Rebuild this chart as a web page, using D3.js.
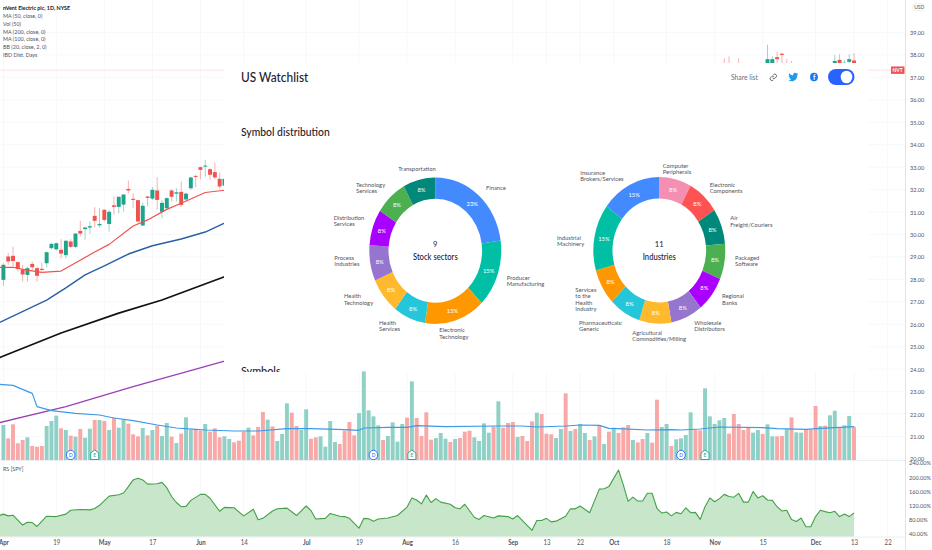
<!DOCTYPE html>
<html>
<head>
<meta charset="utf-8">
<title>US Watchlist</title>
<script src="https://cdn.jsdelivr.net/npm/d3@7"></script>
<style>
    html, body { margin: 0; padding: 0; background: #fff; overflow: hidden; }
    svg { display: block; }
    text { font-family: Lato, sans-serif; }
</style>
</head>
<body>
<div id="chart"></div>
<script>
// Volume per trading day
const volumes = [
    105, 65, 107, 50, 60, 68, 42, 40, 42, 102, 117, 133, 95, 90, 73, 70, 93, 67, 94, 120, 120, 117, 90, 127, 97, 122, 109, 77, 71, 96, 74, 90,
    103, 72, 111, 70, 51, 79, 128, 91, 90, 88, 108, 85, 95, 68, 71, 63, 53, 58, 85, 97, 74, 99, 144, 121, 101, 57, 78, 170, 142, 102, 90, 152,
    64, 68, 71, 40, 117, 54, 48, 88, 114, 74, 141, 266, 149, 131, 104, 60, 72, 113, 55, 108, 127, 236, 126, 72, 143, 61, 66, 81, 64, 54, 63, 66,
    85, 88, 68, 57, 110, 82, 100, 176, 97, 111, 114, 69, 72, 57, 116, 142, 138, 79, 77, 66, 93, 200, 87, 93, 108, 81, 60, 71, 105, 48, 85, 97, 81,
    98, 105, 60, 53, 63, 81, 52, 181, 99, 108, 42, 62, 65, 75, 143, 90, 89, 215, 131, 108, 119, 126, 79, 138, 108, 90, 96, 82, 90, 78, 107, 71,
    71, 72, 92, 128, 83, 82, 92, 91, 162, 102, 103, 134, 148, 96, 104, 132, 100
];
// 1 = up day, 0 = down day
const volumeUp = [
    1, 0, 0, 0, 0, 1, 0, 0, 0, 1, 1, 1, 0, 1, 0, 1, 0, 1, 1, 0, 1, 0, 1, 0, 1, 1, 0, 0, 0, 1, 0, 1,
    0, 1, 1, 0, 1, 0, 1, 1, 0, 0, 1, 0, 0, 0, 1, 1, 0, 0, 0, 1, 0, 0, 0, 1, 0, 1, 1, 1, 0, 0, 1, 1,
    0, 0, 1, 1, 1, 1, 0, 0, 0, 0, 1, 1, 1, 1, 1, 0, 1, 1, 1, 1, 0, 1, 0, 0, 0, 0, 1, 1, 1, 0, 1, 0,
    0, 0, 1, 1, 1, 1, 0, 1, 0, 0, 0, 1, 0, 0, 0, 1, 0, 0, 0, 1, 1, 0, 1, 0, 1, 1, 0, 1, 0, 1, 0, 1, 0,
    0, 0, 1, 0, 0, 1, 0, 0, 1, 1, 0, 1, 1, 1, 1, 0, 0, 1, 1, 1, 1, 1, 0, 0, 0, 0, 0, 1, 1, 0, 1, 1,
    0, 0, 1, 0, 1, 1, 0, 0, 0, 1, 0, 1, 1, 0, 1, 1, 0
];
const volumeMaDays = [-1, 2, 6, 7, 10, 15, 20, 23, 27, 32, 36, 40, 42, 48, 53, 59, 64, 71, 74, 75, 80, 84, 86, 92, 103, 108, 111, 117, 120, 124, 126, 128, 134, 139, 141, 145, 149, 158, 161, 167, 170, 177];
const volumeMaValues = [227, 224, 200, 160, 148, 140, 135, 126, 118, 105, 96, 92, 90, 87, 87, 94, 94, 91, 89, 96, 98, 98, 103, 100, 102, 102, 99, 102, 105, 104, 95, 94, 90, 91, 90, 93, 99, 97, 94, 92, 95, 100];

// Candles visible left of the watchlist card
const candleOpen = [27.98, 29.02, 29.05, 28.77, 28.42, 28.20, 28.69, 28.50, 28.47, 28.72, 29.39, 29.34, 29.32, 29.08, 29.69, 29.45, 30.16, 30.24, 30.31, 30.83, 30.41, 31.10, 30.47, 31.30, 31.23, 31.33, 32.03, 31.59, 31.53, 30.40, 31.69, 31.60, 31.96, 31.01, 31.17, 31.96, 31.82, 31.90, 31.56, 32.06, 32.61, 33.00, 33.03, 32.91, 32.78, 32.48, 32.18];
const candleHigh = [28.72, 29.17, 29.46, 28.80, 28.65, 28.57, 28.80, 28.57, 28.75, 29.24, 29.64, 29.64, 29.79, 29.76, 29.79, 30.06, 30.61, 30.35, 30.58, 31.22, 31.17, 31.13, 31.10, 31.69, 31.69, 31.79, 32.40, 31.84, 31.54, 31.42, 31.72, 32.11, 32.55, 31.54, 31.65, 32.02, 32.06, 32.36, 31.87, 32.58, 32.66, 33.03, 33.32, 32.95, 33.21, 32.76, 32.48];
const candleLow = [27.71, 28.65, 28.57, 28.35, 27.90, 27.90, 28.42, 27.90, 28.35, 28.54, 29.34, 29.28, 28.94, 28.94, 29.39, 29.39, 29.91, 29.76, 30.03, 30.32, 30.32, 30.58, 30.13, 30.87, 30.95, 31.02, 31.84, 31.17, 30.53, 30.38, 31.25, 31.54, 31.10, 30.73, 31.10, 31.47, 31.47, 31.22, 31.47, 31.99, 32.11, 32.46, 32.58, 32.43, 32.46, 32.02, 32.14];
const candleClose = [28.65, 28.80, 28.82, 28.47, 28.22, 28.50, 28.54, 28.16, 28.42, 29.21, 29.58, 29.61, 29.15, 29.72, 29.45, 30.04, 30.04, 30.31, 30.37, 30.61, 30.47, 30.65, 31.01, 31.23, 31.68, 31.78, 31.96, 31.54, 30.58, 31.28, 31.63, 31.99, 31.54, 31.41, 31.62, 31.68, 31.88, 31.32, 31.82, 32.54, 32.57, 32.88, 33.07, 32.66, 32.54, 32.14, 32.48];

// Candles sticking out above the card on the right
const topCandleDays = [150, 151, 153, 159, 160, 161, 162, 163, 164, 173, 174, 175, 176, 177];
const topCandleOpen = [37.60, 37.60, 37.60, 37.50, 37.50, 37.90, 38.05, 37.60, 37.60, 37.50, 37.78, 37.50, 37.69, 37.75];
const topCandleHigh = [37.85, 37.93, 37.85, 38.45, 37.93, 38.15, 38.10, 37.81, 37.73, 38.00, 38.03, 37.78, 38.03, 38.08];
const topCandleLow = [37.50, 37.50, 37.50, 37.50, 37.50, 37.50, 37.50, 37.50, 37.50, 37.50, 37.50, 37.50, 37.50, 37.50];
const topCandleClose = [37.58, 37.58, 37.58, 37.81, 37.81, 37.81, 38.00, 37.58, 37.58, 37.73, 37.50, 37.65, 37.81, 37.50];

const ma50Days = [-1, 2, 4, 8, 12, 19, 22, 27, 30, 34, 37, 42, 46];
const ma50Values = [28.54, 28.54, 28.45, 28.31, 28.37, 29.22, 29.56, 30.38, 30.65, 31.12, 31.39, 31.87, 31.97];
const ma100Days = [-1, 9, 13, 17, 21, 26, 31, 37, 42, 46];
const ma100Values = [26.06, 27.08, 27.62, 28.20, 28.60, 29.13, 29.50, 29.80, 30.11, 30.51];
const ma200Days = [-1, 12, 24, 33, 46];
const ma200Values = [24.50, 25.61, 26.50, 27.08, 28.12];
const bbDays = [-1, 13, 27, 46];
const bbValues = [21.61, 22.33, 23.22, 24.36];
const lastPrice = 37.32;

const rsDays = [-1, 0, 1, 2, 4, 5, 6, 7, 9, 11, 13, 14, 16, 18, 19, 20, 22, 24, 25, 26, 27, 28, 29, 30, 32, 33, 34, 35, 36, 37, 38, 39, 41, 42, 43, 45, 46, 48, 50, 52, 53, 54, 56, 57, 59, 61, 63,
    64, 65, 67, 68, 70, 71, 72, 74, 75, 76, 77, 78, 80, 82, 84, 85, 86, 87, 88, 89, 90, 91, 93, 94, 95, 96, 98, 99, 100, 102, 103, 105, 106, 107, 110, 111, 112, 113, 114, 115, 117, 118, 119, 120, 122, 124, 125, 126, 128,
    129, 130, 131, 132, 133, 134, 135, 136, 137, 138, 139, 140, 141, 142, 143, 144, 145, 146, 147, 148, 149, 150, 151, 152, 153, 154, 155, 156, 157, 158, 159, 160, 161, 162, 163, 164, 165, 166, 167, 168, 169, 170, 171, 172, 173, 174, 175, 176, 177];
const rsValues = [90, 95, 90, 92, 64, 72, 71, 60, 89, 88, 95, 106, 108, 107, 111, 120, 146, 150, 155, 173, 192, 197, 192, 180, 181, 185, 170, 145, 128, 116, 117, 134, 151, 151, 140, 103, 114, 113, 90, 109, 79, 83, 104, 110, 112, 91, 118,
    105, 81, 83, 97, 89, 88, 83, 55, 83, 82, 75, 81, 84, 91, 115, 141, 135, 124, 149, 128, 139, 129, 123, 113, 110, 123, 86, 80, 91, 84, 90, 88, 81, 91, 49, 77, 77, 83, 73, 75, 89, 110, 110, 118, 99, 166, 167, 173, 220,
    178, 131, 143, 132, 132, 154, 154, 111, 98, 101, 90, 100, 96, 113, 99, 100, 80, 116, 141, 130, 139, 151, 145, 143, 154, 129, 129, 159, 141, 147, 135, 134, 116, 104, 106, 80, 74, 84, 59, 59, 88, 106, 102, 99, 103, 88, 95, 88, 98];

const dividendDays = [14, 77, 141];
const earningsDays = [19, 85, 146];

const dateTickDays = [0, 11, 21, 31, 41, 50, 63, 74, 84, 94, 106, 113, 120, 127, 138, 148, 158, 169, 177, 184];
const dateTickLabels = ['Apr', '19', 'May', '17', 'Jun', '14', 'Jul', '19', 'Aug', '16', 'Sep', '13', '22', 'Oct', '18', 'Nov', '15', 'Dec', '13', '22'];
const priceTicks = [39, 38, 37, 36, 35, 34, 33, 32, 31, 30, 29, 28, 27, 26, 25, 24, 23, 22, 21, 20];
const rsTicks = [240, 200, 160, 120, 80, 40];

const legendLines = ['nVent Electric plc, 1D, NYSE', 'MA (50, close, 0)', 'Vol (50)', 'MA (200, close, 0)', 'MA (100, close, 0)', 'BB (20, close, 2, 0)', 'IBD Dist. Days'];

const sectorNames = ['Finance', 'Producer\nManufacturing', 'Electronic\nTechnology', 'Health\nServices', 'Health\nTechnology', 'Process\nIndustries', 'Distribution\nServices', 'Technology\nServices', 'Transportation'];
const sectorShares = [23, 15, 15, 8, 8, 8, 8, 8, 8];
const industryNames = ['Computer\nPeripherals', 'Electronic\nComponents', 'Air\nFreight/Couriers', 'Packaged\nSoftware', 'Regional\nBanks', 'Wholesale\nDistributors', 'Agricultural\nCommodities/Milling', 'Pharmaceuticals:\nGeneric', 'Services\nto the\nHealth\nIndustry', 'Industrial\nMachinery', 'Insurance\nBrokers/Services'];
const industryShares = [8, 8, 8, 8, 8, 8, 8, 8, 8, 15, 15];

// Colours per donut
const sectorColors = ['#448aff', '#00bfa5', '#ff9800', '#26c6da', '#ffb92d', '#9575cd', '#aa00ff', '#4caf50', '#00897b'];
const industryColors = ['#f48fb1', '#ff5252', '#00897b', '#4caf50', '#aa00ff', '#9575cd', '#ffb92d', '#26c6da', '#ff9800', '#00bfa5', '#448aff'];

// Where each donut's outer labels start (x, y of the first line)
const sectorLabelAt = [[486, 187.3], [506.7, 277.7], [439.3, 330], [379, 322.7], [344, 296], [334.3, 257.7], [333.7, 217.7], [356, 184.3], [398.3, 169]];
const industryLabelAt = [[662.7, 165.7], [709.7, 184.3], [730.3, 218], [735, 257.7], [722, 296], [694.3, 322.7], [632.3, 332.7], [579, 322.7], [575.3, 289.7], [557, 237.7], [580.3, 172.7]];

const width = 932;
const height = 550;
const squeeze = 0.9; // the whole screenshot is narrower than tall

const svg = d3.select('#chart').append('svg')
    .attr('width', width)
    .attr('height', height);

const x = d3.scaleLinear().domain([0, 177]).range([3.4, 854]);
const priceY = d3.scaleLinear().domain([20, 40]).range([459, 10]);
const volumeY = d3.scaleLinear().domain([0, 300]).range([460, 360]);
const rsY = d3.scaleLinear().domain([40, 240]).range([533.5, 463]);
const bandWidth = (x(1) - x(0)) * 0.82;

const GREEN = '#1fa38a';
const RED = '#ef5350';

function addText(parent, px, py, str, size, fill, weight) {
    const t = parent.append('text')
        .attr('transform', `translate(${px},${py}) scale(${squeeze},1)`)
        .attr('font-size', size)
        .attr('fill', fill)
        .attr('font-weight', weight || 400);
    str.split('\n').forEach((line, i) => {
        t.append('tspan').attr('x', 0).attr('dy', i ? 6.5 : '0.35em').text(line);
    });
    return t;
}

function squeezeTicks(sel) {
    sel.selectAll('text').each(function() {
        const t = d3.select(this);
        t.attr('x', (+t.attr('x') || 0) / squeeze).attr('transform', `scale(${squeeze},1)`);
    });
}

// Faint grid
const grid = svg.append('g').attr('stroke', '#f7f8fc');
grid.selectAll('line.h').data(priceTicks).enter().append('line')
    .attr('x1', 0).attr('x2', 905).attr('y1', d => priceY(d)).attr('y2', d => priceY(d));
grid.selectAll('line.v').data(dateTickDays).enter().append('line')
    .attr('x1', d => x(d)).attr('x2', d => x(d)).attr('y1', 0).attr('y2', 537);

// Price pane
function drawCandles(days, open, high, low, close) {
    const g = svg.append('g');
    days.forEach((day, i) => {
        const c = close[i] >= open[i] ? GREEN : RED;
        g.append('line')
            .attr('x1', x(day)).attr('x2', x(day))
            .attr('y1', priceY(high[i])).attr('y2', priceY(low[i]))
            .attr('stroke', c).attr('stroke-opacity', 0.45);
        g.append('rect')
            .attr('x', x(day) - bandWidth / 2)
            .attr('y', priceY(Math.max(open[i], close[i])))
            .attr('width', bandWidth)
            .attr('height', Math.max(1, Math.abs(priceY(open[i]) - priceY(close[i]))))
            .attr('fill', c);
    });
}
drawCandles(candleOpen.map((d, i) => i), candleOpen, candleHigh, candleLow, candleClose);
drawCandles(topCandleDays, topCandleOpen, topCandleHigh, topCandleLow, topCandleClose);

function drawLine(parent, days, values, yScale, color, w) {
    const line = d3.line().x(d => x(d[0])).y(d => yScale(d[1]));
    parent.append('path')
        .attr('d', line(days.map((d, i) => [d, values[i]])))
        .attr('fill', 'none')
        .attr('stroke', color)
        .attr('stroke-width', w)
        .attr('stroke-linejoin', 'round');
}
drawLine(svg, bbDays, bbValues, priceY, '#9c3fb5', 1.3);
drawLine(svg, ma200Days, ma200Values, priceY, '#111', 1.7);
drawLine(svg, ma100Days, ma100Values, priceY, '#2b5ea8', 1.4);
drawLine(svg, ma50Days, ma50Values, priceY, '#ef5350', 1.2);

// Last price line and its tag
svg.append('line').attr('x1', 0).attr('x2', 891)
    .attr('y1', priceY(lastPrice)).attr('y2', priceY(lastPrice))
    .attr('stroke', '#f7dde0').attr('stroke-width', 0.8);

// Watchlist card sits on top of the price pane
svg.append('rect').attr('x', 224).attr('y', 63).attr('width', 644).attr('height', 309).attr('fill', '#fff');
const card = svg.append('g');
addText(card, 241, 77, 'US Watchlist', 13.2, '#1e222d', 500);
addText(card, 241, 131.5, 'Symbol distribution', 11.5, '#1e222d', 500);
addText(card, 731, 77, 'Share list', 7.5, '#6a6d78');

function drawDonut(cx, cy, names, shares, colors, labelAt, count, title) {
    const g = svg.append('g').attr('transform', `translate(${cx},${cy}) scale(${squeeze},1)`);
    const pie = d3.pie().sort(null).value(d => d);
    const arc = d3.arc().innerRadius(52).outerRadius(73.3);
    const slices = pie(shares);
    g.selectAll('path').data(slices).enter().append('path')
        .attr('d', arc)
        .attr('fill', (d, i) => colors[i]);
    g.selectAll('text').data(slices).enter().append('text')
        .attr('x', d => arc.centroid(d)[0])
        .attr('y', d => arc.centroid(d)[1])
        .attr('text-anchor', 'middle')
        .attr('dy', '0.35em')
        .attr('font-size', 6.5)
        .attr('fill', '#fff')
        .text(d => d.data + '%');
    g.append('text').attr('y', -6.7).attr('text-anchor', 'middle').attr('dy', '0.35em')
        .attr('font-size', 8.5).attr('fill', '#1e222d').text(count);
    g.append('text').attr('y', 6.7).attr('text-anchor', 'middle').attr('dy', '0.35em')
        .attr('font-size', 8.5).attr('font-weight', 500).attr('fill', '#1e222d').text(title);
    names.forEach((name, i) => {
        addText(svg, labelAt[i][0], labelAt[i][1], name, 6.5, '#50535e');
    });
}
drawDonut(435.3, 250.7, sectorNames, sectorShares, sectorColors, sectorLabelAt, '9', 'Stock sectors');
drawDonut(659.3, 250.4, industryNames, industryShares, industryColors, industryLabelAt, '11', 'Industries');

// "Symbols" heading is cut off by the volume pane
const clip = svg.append('clipPath').attr('id', 'card-clip');
clip.append('rect').attr('x', 224).attr('y', 63).attr('width', 644).attr('height', 309);
const symbols = svg.append('g').attr('clip-path', 'url(#card-clip)');
addText(symbols, 241, 370.5, 'Symbols', 12, '#1e222d', 500);

// Share icons
const icons = svg.append('g');
icons.append('g').attr('transform', 'translate(769,73) scale(0.36)')
    .append('path')
    .attr('d', 'M10 14a5 5 0 0 0 7 0l3-3a5 5 0 0 0-7-7l-1 1M14 10a5 5 0 0 0-7 0l-3 3a5 5 0 0 0 7 7l1-1')
    .attr('fill', 'none').attr('stroke', '#50535e').attr('stroke-width', 2.4);
icons.append('g').attr('transform', 'translate(788,71.5) scale(0.44,0.46)')
    .append('path')
    .attr('d', 'M23 5c-.8.4-1.7.6-2.6.7.9-.6 1.6-1.4 2-2.5-.9.5-1.8.9-2.9 1.1A4.6 4.6 0 0 0 11.700 8.500 13 13 0 0 1 2.300 3.700a4.600 4.600 0 0 0 1.400 6.100c-.7 0-1.400-.2-2-.6 0 2.200 1.600 4.100 3.700 4.600-.7.2-1.400.2-2.100.1.600 1.800 2.300 3.200 4.300 3.200A9.200 9.200 0 0 1 1 19a13 13 0 0 0 20-11.500c.9-.6 1.600-1.400 2-2.500z')
    .attr('fill', '#1d9bf0');
icons.append('ellipse').attr('cx', 814).attr('cy', 77).attr('rx', 3.9).attr('ry', 4.3).attr('fill', '#1877f2');
addText(icons, 813, 77.6, 'f', 7.5, '#fff', 700);
icons.append('rect').attr('x', 828).attr('y', 69).attr('width', 26.5).attr('height', 16).attr('rx', 8).attr('fill', '#2962ff');
icons.append('ellipse').attr('cx', 846.5).attr('cy', 77).attr('rx', 5.8).attr('ry', 6.3).attr('fill', '#fff');

// Volume pane
svg.append('g').selectAll('rect').data(volumes).enter().append('rect')
    .attr('x', (d, i) => x(i) - bandWidth / 2)
    .attr('y', d => volumeY(d))
    .attr('width', bandWidth)
    .attr('height', d => volumeY(0) - volumeY(d))
    .attr('fill', (d, i) => volumeUp[i] ? '#8fd1c6' : '#f8a9a7');
drawLine(svg, volumeMaDays, volumeMaValues, volumeY, '#3d9ae8', 1.2);

const eventY = 455;
svg.append('g').selectAll('ellipse').data(dividendDays).enter().append('ellipse')
    .attr('cx', d => x(d)).attr('cy', eventY).attr('rx', 4.3).attr('ry', 4.7)
    .attr('fill', '#fff').attr('stroke', '#2962ff').attr('stroke-width', 0.9);
dividendDays.forEach(d => addText(svg, x(d) - 1.8, eventY, 'D', 5.5, '#2962ff'));
const housePath = d3.path();
[[-4, -2], [0, -5], [4, -2], [4, 4.5], [-4, 4.5]].forEach((p, i) => i ? housePath.lineTo(p[0], p[1]) : housePath.moveTo(p[0], p[1]));
housePath.closePath();
svg.append('g').selectAll('path').data(earningsDays).enter().append('path')
    .attr('transform', d => `translate(${x(d)},${eventY})`)
    .attr('d', housePath.toString())
    .attr('fill', '#fff').attr('stroke', '#1fa38a').attr('stroke-width', 0.9);
earningsDays.forEach(d => addText(svg, x(d) - 1.5, eventY, 'E', 5.5, '#1fa38a'));

svg.append('line').attr('x1', 0).attr('x2', 905).attr('y1', 460.5).attr('y2', 460.5).attr('stroke', '#eceef3');

// Relative strength pane
addText(svg, 3, 468.7, 'RS [SPY]', 6, '#50535e');
const rsPoints = rsDays.map((d, i) => [d, rsValues[i]]);
const rsBottom = 536.8;
svg.append('path')
    .attr('d', d3.area().x(d => x(d[0])).y0(rsBottom).y1(d => rsY(d[1]))(rsPoints))
    .attr('fill', '#c8e6c9');
drawLine(svg, rsDays, rsValues, rsY, '#43a047', 1.1);

// Axes
const dateAxis = svg.append('g')
    .attr('transform', 'translate(0,537)')
    .call(d3.axisBottom(x).tickValues(dateTickDays).tickFormat((d, i) => dateTickLabels[i]).tickSize(0).tickPadding(3));
dateAxis.select('.domain').attr('d', 'M0,0H905').attr('stroke', '#eceef3');
dateAxis.selectAll('text')
    .attr('font-size', 6.8)
    .attr('fill', '#50535e')
    .attr('font-family', 'Lato, sans-serif')
    .attr('font-weight', (d, i) => /[A-Z]/.test(dateTickLabels[i]) ? 700 : 400);
squeezeTicks(dateAxis);

const priceAxis = svg.append('g')
    .attr('transform', 'translate(905.5,0)')
    .call(d3.axisRight(priceY).tickValues(priceTicks).tickFormat(d3.format('.2f')).tickSize(0).tickPadding(4.5));
priceAxis.select('.domain').attr('d', 'M0,0V550').attr('stroke', '#e0e3eb');
priceAxis.selectAll('text')
    .attr('font-size', 6.2)
    .attr('fill', '#50535e')
    .attr('font-family', 'Lato, sans-serif');
squeezeTicks(priceAxis);

const rsAxis = svg.append('g')
    .attr('transform', 'translate(905.5,0)')
    .call(d3.axisRight(rsY).tickValues(rsTicks).tickFormat(d => d3.format('.2f')(d) + '%').tickSize(0).tickPadding(3.5));
rsAxis.select('.domain').remove();
rsAxis.selectAll('text')
    .attr('font-size', 6.2)
    .attr('fill', '#50535e')
    .attr('font-family', 'Lato, sans-serif');
squeezeTicks(rsAxis);

// Ticker tag and currency tag
svg.append('rect').attr('x', 891).attr('y', priceY(lastPrice) - 3.7).attr('width', 13.5).attr('height', 7.4).attr('fill', '#ef5350');
addText(svg, 892.5, priceY(lastPrice), 'NVT', 5.5, '#fff', 700);
svg.append('rect').attr('x', 913).attr('y', 3.5).attr('width', 11).attr('height', 7).attr('rx', 1.5)
    .attr('fill', '#fff').attr('stroke', '#e0e3eb').attr('stroke-width', 0.5);
addText(svg, 914.2, 7, 'USD', 5.5, '#50535e');

// Legend, top left
legendLines.forEach((line, i) => {
    addText(svg, 3, 7.7 + i * 7.9, line, 6, i ? '#50535e' : '#131722', i ? 400 : 700);
});
</script>
</body>
</html>
